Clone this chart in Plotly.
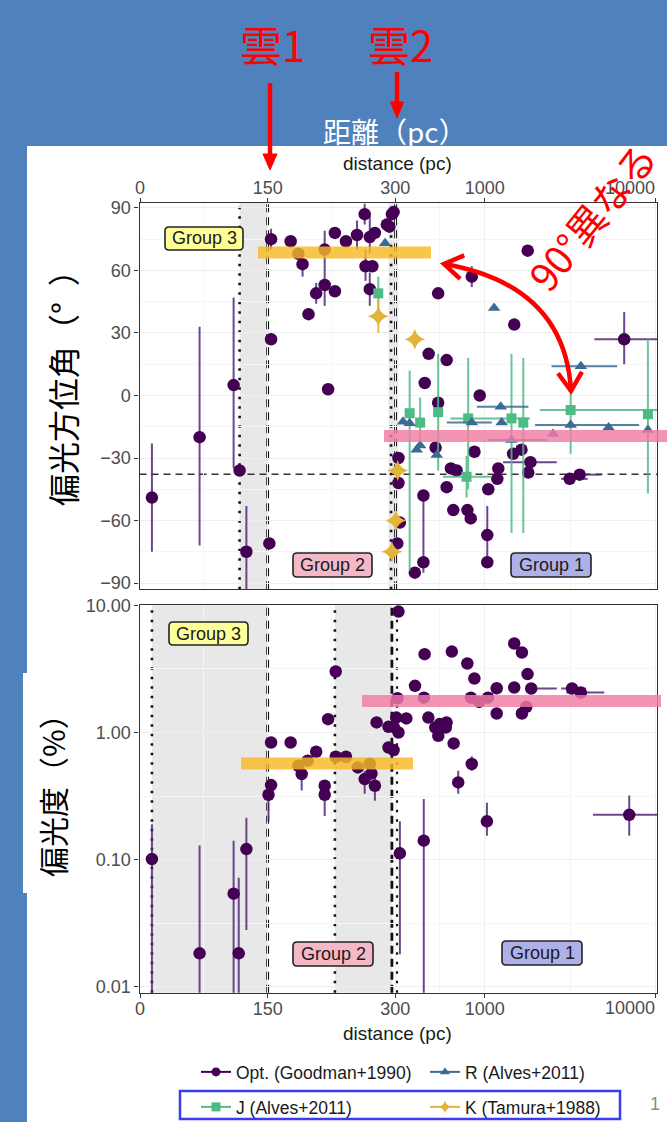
import numpy as np
import plotly.graph_objects as go

W, H = 667, 1122
FONT = "Liberation Sans, Arial, sans-serif"
JP = "Noto Sans CJK JP, sans-serif"

# ---------------- axis ticks ----------------
dist_ticks = [0, 150, 300, 1000, 10000]
dist_labels = ["0", "150", "300", "1000", "10000"]
ang_ticks = [-90, -60, -30, 0, 30, 60, 90]
ang_labels = ["\u221290", "\u221260", "\u221230", "0", "30", "60", "90"]
pol_ticks = [0.01, 0.1, 1, 10]
pol_labels = ["0.01", "0.10", "1.00", "10.00"]

# ---------------- group boundaries ----------------
top_bands = [(117, 150), (292, 312)]
top_dotted = [117, 295]
top_dashed = [150, 301]
bot_bands = [(14, 150), (229, 296)]
bot_dotted = [14, 229, 306]
bot_dashed = [150, 296]
ref_angle = -37.8

# ---------------- polarization angle: Opt. (Goodman+1990) ----------------
opt_a_d = [14, 70, 110, 117, 125, 152, 154, 154, 177, 186, 191, 198, 207, 217, 217, 221, 229, 229, 242, 255,
           264, 270, 276, 265, 273, 270, 290, 296, 298, 293, 313, 313, 319, 308, 390, 438, 438, 534, 935, 516,
           871, 634, 685, 599, 655, 792, 828, 1035, 1035, 1049, 1200, 1185, 1465, 1640, 1850, 1797, 3140, 3590,
           1784, 1488, 6540, 840, 534, 470, 599, 446]
opt_a_v = [-49, -20, 5, -36, -75, -71, 27, 75, 74, 68, 63, 39, 49, 53, 70, 3, 50, 78, 74, 77,
           87, 76, 78, 62, 62, 51, 82, 87, 88, 81, -30, -42, -61, -71, -85, -80, -48, -3.5, 0, -25,
           -27, -35, -36, -44, -55, -55, -59, -67, -80, -45, -35, -40, -28, -26, -32, -37, -40, -38,
           69.5, 34, 27, 57, 49, 20, 17, 6]
opt_a_yerr = {0: (-75, -23), 1: (-72, 33), 2: (-35, 47), 4: (-95, -53), 7: (70, 80), 10: (57, 69),
              12: (44, 54), 13: (43, 79), 19: (70, 84), 20: (82, 92), 21: (68, 86), 23: (55, 70),
              25: (43, 59), 35: (-85, -48), 47: (-78, -53), 60: (15, 40), 61: (52, 62)}
opt_a_xerr = {54: (1280, 2640), 56: (2800, 4000), 57: (3200, 4800), 60: (4380, 12000)}

# R (Alves+2011)
r_a_d = [288, 1134, 3650, 333, 364, 400, 419, 524, 840, 1256, 1240, 2510, 3180, 5300, 9000, 1434]
r_a_v = [73, 42, 14, -12.6, -13.3, -26, -24, -28.6, -13, -13, -5.4, -18.5, -14.2, -15.4, -16.6, -21.4]
r_a_xerr = {2: (2460, 5950), 8: (600, 1100), 10: (900, 1800), 12: (1970, 8000), 15: (1050, 2300)}

# J (Alves+2011)
j_a_d = [280, 364, 419, 534, 800, 1434, 1680, 3180, 9000, 783]
j_a_v = [49, -8.5, -13, -8, -11, -11, -13, -7, -9, -39]
j_a_yerr = {0: (35, 57), 1: (-84, 12), 2: (-25, -1), 3: (-36, 20), 4: (-45, 18), 5: (-66, 20),
            6: (-66, 18), 7: (-28, 1), 8: (-47, 27), 9: (-49, -29)}
j_a_xerr = {4: (630, 1840), 7: (2100, 11000), 9: (570, 1100)}

# K (Tamura+1988)
k_a_d = [280, 390, 302, 296, 310]
k_a_v = [38, 27, -60, -75, -36]
k_a_yerr = {0: (30, 46)}

# ---------------- polarization degree (%) : Opt. ----------------
opt_p_d = [14, 70, 110, 116, 125, 151, 154, 154, 177, 207, 186, 197, 190, 230, 242, 217, 217, 230, 221, 256,
           270, 264, 272, 276, 278, 292, 298, 292, 298, 304, 348, 313, 309, 313, 445, 391, 441, 468, 514, 545,
           598, 592, 535, 642, 658, 791, 870, 830, 927, 1045, 1175, 1175, 1488, 1650, 1488, 1870, 1780, 1650,
           1750, 3240, 3650, 840, 700, 1030, 7000, 440, 319]
opt_p_v = [0.101, 0.0183, 0.054, 0.0183, 0.121, 0.324, 0.386, 0.834, 0.834, 0.705, 0.547, 0.6, 0.471, 0.644,
           0.644, 0.381, 0.324, 3.02, 1.274, 0.531, 0.565, 0.43, 0.476, 0.381, 1.2, 1.108, 1.108, 0.762, 0.727,
           1.31, 1.29, 1.0, 1.86, 8.94, 4.13, 2.33, 1.88, 1.31, 1.094, 1.164, 1.2, 1.094, 0.942, 4.33, 0.82,
           3.49, 2.66, 1.88, 1.74, 1.88, 2.23, 1.41, 5.01, 4.26, 2.26, 2.22, 2.88, 1.41, 1.59, 2.22, 2.06,
           0.565, 0.405, 0.2, 0.225, 0.141, 0.112]
opt_p_yerr = {0: (0.001, 0.19), 1: (0.001, 0.129), 2: (0.001, 0.141), 3: (0.001, 0.072), 4: (0.028, 0.213),
              5: (0.2, 0.324), 12: (0.35, 0.5), 16: (0.22, 0.4), 21: (0.33, 0.5), 23: (0.29, 0.45),
              61: (0.5, 0.65), 62: (0.33, 0.5), 63: (0.154, 0.28), 64: (0.154, 0.32), 65: (0.001, 0.30),
              66: (0.018, 0.2)}
opt_p_xerr = {55: (1870, 2640), 59: (2800, 3900), 60: (3000, 5000), 64: (4300, 12000)}

# ---------------- colours ----------------
C_OPT, C_R, C_J, C_K = "#440154", "#3b6a94", "#4fbb84", "#e2b53a"

# ---------------- x scale: linear 0-300, log above ----------------
K = 171 / 255.3


def tx(d):
    d = np.asarray(d, dtype=float)
    return np.where(d <= 300, d / 300.0, 1 + np.log10(np.maximum(d, 1e-9) / 300.0) * K)


def px(x):
    return x / W


def py(y):
    return 1 - y / H


def yerr(vals, errs):
    plus = [0.0] * len(vals)
    minus = [0.0] * len(vals)
    for i, (lo, hi) in errs.items():
        plus[i] = hi - vals[i]
        minus[i] = vals[i] - lo
    return plus, minus


def xerr(ds, errs):
    plus = [0.0] * len(ds)
    minus = [0.0] * len(ds)
    for i, (lo, hi) in errs.items():
        plus[i] = float(tx(hi) - tx(ds[i]))
        minus[i] = float(tx(ds[i]) - tx(lo))
    return plus, minus


fig = go.Figure()


def add_series(xa, ya, d, v, yerrs, xerrs, color, symbol, size, ecolor):
    tr = dict(x=tx(d), y=v, mode="markers", xaxis=xa, yaxis=ya, showlegend=False, hoverinfo="skip",
              marker=dict(color=color, symbol=symbol, size=size, line=dict(width=0)))
    if yerrs:
        p, m = yerr(v, yerrs)
        tr["error_y"] = dict(type="data", symmetric=False, array=p, arrayminus=m, color=ecolor,
                             thickness=2, width=0)
    if xerrs:
        p, m = xerr(d, xerrs)
        tr["error_x"] = dict(type="data", symmetric=False, array=p, arrayminus=m, color=ecolor,
                             thickness=2, width=0)
    fig.add_trace(go.Scatter(**tr))


add_series("x", "y", opt_a_d, opt_a_v, opt_a_yerr, opt_a_xerr, C_OPT, "circle", 12.5, "rgba(80,40,120,0.85)")
add_series("x", "y", j_a_d, j_a_v, j_a_yerr, j_a_xerr, C_J, "square", 10, "rgba(79,187,132,0.85)")
add_series("x", "y", r_a_d, r_a_v, None, r_a_xerr, C_R, "triangle-up", 11, "rgba(59,106,148,0.85)")
add_series("x", "y", k_a_d, k_a_v, k_a_yerr, None, C_K, "star-diamond", 15, "rgba(226,181,58,0.9)")
add_series("x2", "y2", opt_p_d, opt_p_v, opt_p_yerr, opt_p_xerr, C_OPT, "circle", 12.5, "rgba(80,40,120,0.85)")

# legend-only entries
legend_entries = [("Opt. (Goodman+1990)", C_OPT, "circle", "legend"),
                  ("R (Alves+2011)", C_R, "triangle-up", "legend"),
                  ("J (Alves+2011)", C_J, "square", "legend2"),
                  ("K (Tamura+1988)", C_K, "star-diamond", "legend2")]
for name, col, sym, lg in legend_entries:
    fig.add_trace(go.Scatter(x=[None], y=[None], mode="lines+markers", name=name, legend=lg,
                             xaxis="x2", yaxis="y2",
                             line=dict(color=col, width=2), marker=dict(color=col, symbol=sym, size=9)))

# ---------------- axes ----------------
XR = [-0.002, 2.025]
XDOM = [139.5 / W, 657 / W]
minor_x = list(tx([75, 225, 547, 3160]))
# the last tick label (10000) sits left of its tick in the reference -> written as an annotation
x_ticktext = dist_labels[:-1] + [""]
axis_style = dict(showline=True, linecolor="#333333", linewidth=1.3, mirror=True, ticks="outside",
                  ticklen=4, tickcolor="#333333", tickwidth=1, zeroline=False,
                  tickfont=dict(family=FONT, size=18, color="#4d4d4d"),
                  showgrid=True, gridcolor="#eeeeee", gridwidth=1)

layout = dict(
    width=W, height=H, autosize=False, margin=dict(l=0, r=0, t=0, b=0, autoexpand=False),
    paper_bgcolor="#4f81bd", plot_bgcolor="white",
    xaxis=dict(domain=XDOM, range=XR, anchor="y", side="top", tickmode="array",
               tickvals=list(tx(dist_ticks)), ticktext=x_ticktext, ticklabelstandoff=-4,
               minor=dict(tickvals=minor_x, showgrid=True, gridcolor="#f5f5f5", ticks=""), **axis_style),
    xaxis2=dict(domain=XDOM, range=XR, anchor="y2", side="bottom", tickmode="array",
                tickvals=list(tx(dist_ticks)), ticktext=x_ticktext, ticklabelstandoff=-4,
                minor=dict(tickvals=minor_x, showgrid=True, gridcolor="#f5f5f5", ticks=""), **axis_style),
    yaxis=dict(domain=[1 - 589.3 / H, 1 - 202.7 / H], range=[-93, 92.5], anchor="x", tickmode="array",
               tickvals=ang_ticks, ticktext=ang_labels,
               minor=dict(tickvals=[-75, -45, -15, 15, 45, 75], showgrid=True, gridcolor="#f5f5f5", ticks=""),
               **axis_style),
    yaxis2=dict(domain=[1 - 992.7 / H, 1 - 605 / H], type="log", range=[-2.047, 1.003], anchor="x2",
                tickmode="array", tickvals=pol_ticks, ticktext=pol_labels,
                minor=dict(tickvals=[0.0316, 0.316, 3.16], showgrid=True, gridcolor="#f5f5f5", ticks=""),
                **axis_style),
    legend=dict(orientation="h", x=196 / W, xanchor="left", y=1 - 1054 / H, yanchor="top",
                entrywidth=184, entrywidthmode="pixels", itemwidth=30, bgcolor="rgba(0,0,0,0)",
                font=dict(family=FONT, size=17.5, color="#1a1a1a")),
    legend2=dict(orientation="h", x=196 / W, xanchor="left", y=1 - 1089 / H, yanchor="top",
                 entrywidth=184, entrywidthmode="pixels", itemwidth=30, bgcolor="rgba(0,0,0,0)",
                 font=dict(family=FONT, size=17.5, color="#1a1a1a")),
)

shapes = []
# slide background white image region
shapes.append(dict(type="rect", xref="paper", yref="paper", x0=px(27), x1=1, y0=0, y1=py(146),
                   fillcolor="white", line=dict(width=0), layer="below"))
shapes.append(dict(type="rect", xref="paper", yref="paper", x0=px(23), x1=px(40), y0=py(893), y1=py(673),
                   fillcolor="white", line=dict(width=0), layer="below"))


def vbands(xa, ya, bands, dotted, dashed):
    for a, b in bands:
        shapes.append(dict(type="rect", xref=xa, yref=ya + " domain", x0=float(tx(a)), x1=float(tx(b)),
                           y0=0, y1=1, fillcolor="#e8e8e8", line=dict(width=0), layer="below"))
    for d in dotted:
        shapes.append(dict(type="line", xref=xa, yref=ya + " domain", x0=float(tx(d)), x1=float(tx(d)),
                           y0=0, y1=1, line=dict(color="#111111", width=2.6, dash="2.5px,7px"), layer="below"))
    for d in dashed:
        shapes.append(dict(type="line", xref=xa, yref=ya + " domain", x0=float(tx(d)), x1=float(tx(d)),
                           y0=0, y1=1, line=dict(color="#111111", width=2.8, dash="8px,5px"), layer="below"))


vbands("x", "y", top_bands, top_dotted, top_dashed)
vbands("x2", "y2", bot_bands, bot_dotted, bot_dashed)
shapes.append(dict(type="line", xref="x domain", yref="y", x0=0, x1=1, y0=ref_angle, y1=ref_angle,
                   line=dict(color="#333333", width=1.6, dash="7px,5px"), layer="below"))

# highlight bars
YEL = "rgba(245,186,35,0.82)"
PNK = "rgba(240,125,165,0.82)"
for (x0, x1, yc, col) in [(258, 431, 252.6, YEL), (384, 667, 436, PNK), (241, 413, 763.5, YEL),
                          (362, 661, 701, PNK)]:
    shapes.append(dict(type="rect", xref="paper", yref="paper", x0=px(x0), x1=px(x1),
                       y0=py(yc + 6), y1=py(yc - 6), fillcolor=col, line=dict(width=0), layer="above"))


def rrect(x0, y0, x1, y1, r=4):
    pts = (f"M{px(x0 + r)},{py(y0)} L{px(x1 - r)},{py(y0)} Q{px(x1)},{py(y0)} {px(x1)},{py(y0 + r)} "
           f"L{px(x1)},{py(y1 - r)} Q{px(x1)},{py(y1)} {px(x1 - r)},{py(y1)} "
           f"L{px(x0 + r)},{py(y1)} Q{px(x0)},{py(y1)} {px(x0)},{py(y1 - r)} "
           f"L{px(x0)},{py(y0 + r)} Q{px(x0)},{py(y0)} {px(x0 + r)},{py(y0)} Z")
    return pts


annotations = []
groups = [("Group 3", "#ffff99", 165, 227, 243, 250), ("Group 3", "#ffff99", 169, 622, 248, 645),
          ("Group 2", "#f4b8c6", 293, 553, 372, 577), ("Group 2", "#f4b8c6", 293, 942, 373, 966),
          ("Group 1", "#b0b0e8", 511, 553, 591, 577), ("Group 1", "#b0b0e8", 502, 941, 582, 965)]
for txt, col, x0, y0, x1, y1 in groups:
    shapes.append(dict(type="path", xref="paper", yref="paper", path=rrect(x0, y0, x1, y1),
                       fillcolor=col, line=dict(color="#222222", width=1.6), layer="above"))
    annotations.append(dict(text=txt, x=px((x0 + x1) / 2), y=py((y0 + y1) / 2), xref="paper", yref="paper",
                            showarrow=False, xanchor="center", yanchor="middle",
                            font=dict(family=FONT, size=18, color="#1a1a1a")))

RED = "#ff0000"
# straight arrows
for (xc, ytop, ytip, hw) in [(270, 83, 170, 7), (397, 72, 118, 6.5)]:
    shapes.append(dict(type="line", xref="paper", yref="paper", x0=px(xc), x1=px(xc), y0=py(ytop),
                       y1=py(ytip - 12), line=dict(color=RED, width=4.5), layer="above"))
    shapes.append(dict(type="path", xref="paper", yref="paper",
                       path=f"M{px(xc)},{py(ytip)} L{px(xc - hw)},{py(ytip - 16)} L{px(xc + hw)},{py(ytip - 16)} Z",
                       fillcolor=RED, line=dict(color=RED, width=1), layer="above"))

# curved double-headed arrow
P0, C, P2 = np.array([444.0, 264.0]), np.array([565.0, 285.0]), np.array([571.0, 391.0])
shapes.append(dict(type="path", xref="paper", yref="paper",
                   path=f"M{px(P0[0])},{py(P0[1])} Q{px(C[0])},{py(C[1])} {px(P2[0])},{py(P2[1])}",
                   fillcolor="rgba(0,0,0,0)", line=dict(color=RED, width=4.5), layer="above"))


def chevron(tip, back_dir, L=22, ang=33):
    back_dir = back_dir / np.linalg.norm(back_dir)
    pts = []
    for s in (ang, -ang):
        a = np.radians(s)
        rot = np.array([[np.cos(a), -np.sin(a)], [np.sin(a), np.cos(a)]])
        pts.append(tip + L * rot.dot(back_dir))
    return (f"M{px(pts[0][0])},{py(pts[0][1])} L{px(tip[0])},{py(tip[1])} "
            f"L{px(pts[1][0])},{py(pts[1][1])}")


for tip, bd in [(P0, C - P0), (P2, C - P2)]:
    shapes.append(dict(type="path", xref="paper", yref="paper", path=chevron(tip, bd),
                       fillcolor="rgba(0,0,0,0)", line=dict(color=RED, width=4.5), layer="above"))

# legend frame
shapes.append(dict(type="rect", xref="paper", yref="paper", x0=px(180), x1=px(620), y0=py(1119), y1=py(1091),
                   line=dict(color="#3b3bef", width=2.5), fillcolor="rgba(0,0,0,0)", layer="above"))

# texts
texts = [
    ("雲1", 272, 44, 42, RED, JP, 0),
    ("雲2", 400, 44, 42, RED, JP, 0),
    ("距離（pc）", 395, 131, 28, "white", JP, 0),
    ("distance (pc)", 397, 163, 19, "#1a1a1a", FONT, 0),
    ("distance (pc)", 397, 1033, 19, "#1a1a1a", FONT, 0),
    (dist_labels[-1], 630, 188, 18, "#4d4d4d", FONT, 0),
    (dist_labels[-1], 630, 1008, 18, "#4d4d4d", FONT, 0),
    ("偏光方位角（°\u2002）", 62, 380, 32, "black", JP, -90),
    ("偏光度（%）", 52, 788, 30, "black", JP, -90),
    ("90°異なる", 591, 216, 39, RED, JP, -51),
    ("1", 655, 1104, 18, "#8c8c8c", FONT, 0),
]
for t, x, y, s, c, f, a in texts:
    annotations.append(dict(text=t, x=px(x), y=py(y), xref="paper", yref="paper", showarrow=False,
                            xanchor="center", yanchor="middle", textangle=a,
                            font=dict(family=f, size=s, color=c)))

layout["shapes"] = shapes
layout["annotations"] = annotations
fig.update_layout(**layout)
fig.write_html("out.html", config={"displayModeBar": False, "responsive": False})

# remove default page margins so the figure starts at the window's top-left corner
with open("out.html", encoding="utf-8") as fh:
    html = fh.read()
html = html.replace("<head>", "<head><style>html,body{margin:0;padding:0;}</style>", 1)
with open("out.html", "w", encoding="utf-8") as fh:
    fh.write(html)
